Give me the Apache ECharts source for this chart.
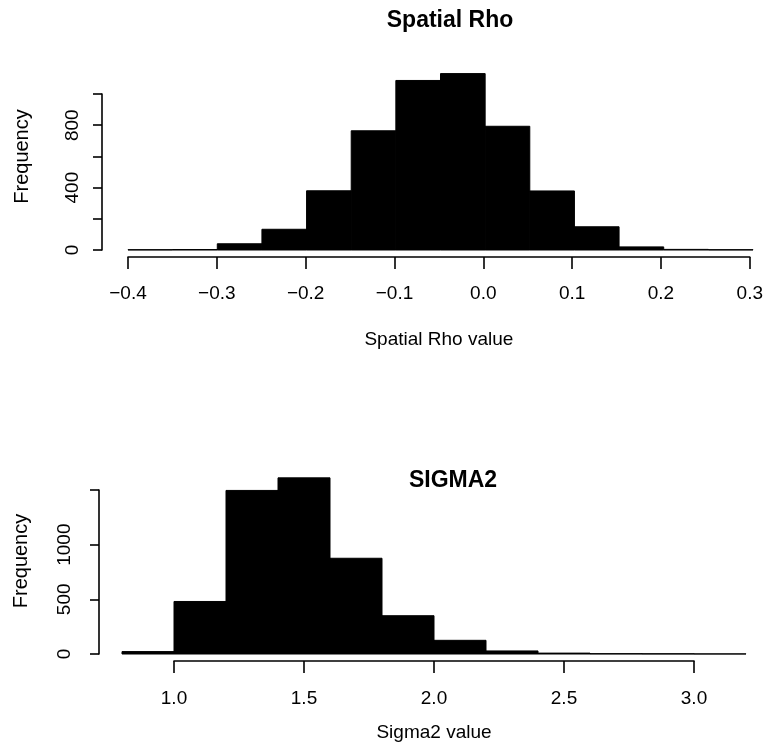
<!DOCTYPE html>
<html>
<head>
<meta charset="utf-8">
<script src="https://cdn.jsdelivr.net/npm/echarts@6/dist/echarts.min.js"></script>
<style>html,body{margin:0;padding:0;background:#fff}#c{width:766px;height:756px}</style>
</head>
<body>
<div id="c"></div>
<script>
// ---- Data ----
const rhoBinStart = [-0.4, -0.35, -0.3, -0.25, -0.2, -0.15, -0.1, -0.05, 0.0, 0.05, 0.1, 0.15, 0.2, 0.25];
const rhoBinEnd   = [-0.35, -0.3, -0.25, -0.2, -0.15, -0.1, -0.05, 0.0, 0.05, 0.1, 0.15, 0.2, 0.25, 0.3];
const rhoCounts   = [2, 3, 40, 133, 380, 765, 1088, 1132, 794, 379, 149, 20, 4, 2];

const sigBinStart = [0.8, 1.0, 1.2, 1.4, 1.6, 1.8, 2.0, 2.2, 2.4, 2.6, 2.8, 3.0];
const sigBinEnd   = [1.0, 1.2, 1.4, 1.6, 1.8, 2.0, 2.2, 2.4, 2.6, 2.8, 3.0, 3.2];
const sigCounts   = [22, 480, 1495, 1610, 875, 350, 125, 28, 8, 3, 2, 1];

const rhoYLabels = [0, 400, 800];
const sigYLabels = [0, 500, 1000];

const titles = ['Spatial Rho', 'SIGMA2'];
const xNames = ['Spatial Rho value', 'Sigma2 value'];
const yName = 'Frequency';

// ---- Build ----
const FONT = 'Liberation Sans, Arial, Helvetica, sans-serif';
const FS = 19;
function toData(s, e, c) { return s.map((v, i) => [v, e[i], c[i]]); }
function renderItem(params, api) {
  const p0 = api.coord([api.value(0), api.value(2)]);
  const p1 = api.coord([api.value(1), 0]);
  return {
    type: 'rect',
    shape: { x: p0[0], y: p0[1], width: p1[0] - p0[0], height: p1[1] - p0[1] },
    style: { fill: '#000', stroke: '#000', lineWidth: 1 }
  };
}
function fmtX(v) {
  const s = Math.abs(v).toFixed(1);
  return (v < -1e-9 ? '\u2212' : '') + s;
}
function lineStyle() { return { show: true, onZero: false, lineStyle: { color: '#000', width: 1.6 } }; }
function tickStyle(len) { return { show: true, length: len, lineStyle: { color: '#000', width: 1.6 } }; }
function hidden() { return { show: false, onZero: false }; }
const textBase = { fontFamily: FONT, fontSize: FS, color: '#000' };

const option = {
  animation: false,
  backgroundColor: '#fff',
  title: [
    { text: titles[0], left: 445, top: 4, textAlign: 'center',
      textStyle: { fontFamily: FONT, fontWeight: 'bold', fontSize: 23, color: '#000' } },
    { text: titles[1], left: 448, top: 464, textAlign: 'center',
      textStyle: { fontFamily: FONT, fontWeight: 'bold', fontSize: 23, color: '#000' } }
  ],
  grid: [
    { left: 128, width: 625, top: 63, height: 187 },   // 0 top bars
    { left: 128, width: 625, top: 94, height: 156 },   // 1 top axes
    { left: 122, width: 624, top: 468, height: 186 },  // 2 bottom bars
    { left: 174, width: 520, top: 490, height: 164 }   // 3 bottom axes
  ],
  xAxis: [
    { gridIndex: 0, type: 'value', min: -0.4, max: 0.3, show: false, axisLine: hidden() },
    { gridIndex: 1, type: 'value', min: -0.4, max: 0.3, interval: 0.1, offset: 7,
      axisLine: lineStyle(), axisTick: tickStyle(12), splitLine: { show: false },
      axisLabel: Object.assign({ formatter: fmtX, margin: 27 }, textBase),
      name: xNames[0], nameLocation: 'middle', nameGap: 73,
      nameTextStyle: textBase },
    { gridIndex: 2, type: 'value', min: 0.8, max: 3.2, show: false, axisLine: hidden() },
    { gridIndex: 3, type: 'value', min: 1.0, max: 3.0, interval: 0.5, offset: 7,
      axisLine: lineStyle(), axisTick: tickStyle(12), splitLine: { show: false },
      axisLabel: Object.assign({ formatter: fmtX, margin: 28 }, textBase),
      name: xNames[1], nameLocation: 'middle', nameGap: 62,
      nameTextStyle: textBase }
  ],
  yAxis: [
    { gridIndex: 0, type: 'value', min: 0, max: 1200,
      axisLine: hidden(), axisTick: hidden(), axisLabel: hidden(), splitLine: hidden(),
      name: yName, nameLocation: 'middle', nameGap: 96,
      nameTextStyle: Object.assign({}, textBase, { fontSize: 20 }) },
    { gridIndex: 1, type: 'value', min: 0, max: 1000, interval: 200, offset: 26,
      axisLine: lineStyle(), axisTick: tickStyle(9), splitLine: { show: false },
      axisLabel: Object.assign({ rotate: 90, margin: 20,
        formatter: v => rhoYLabels.indexOf(Math.round(v)) >= 0 ? String(Math.round(v)) : '' }, textBase) },
    { gridIndex: 2, type: 'value', min: 0, max: 1700,
      axisLine: hidden(), axisTick: hidden(), axisLabel: hidden(), splitLine: hidden(),
      name: yName, nameLocation: 'middle', nameGap: 91,
      nameTextStyle: Object.assign({}, textBase, { fontSize: 20 }) },
    { gridIndex: 3, type: 'value', min: 0, max: 1500, interval: 500, offset: 75,
      axisLine: lineStyle(), axisTick: tickStyle(9), splitLine: { show: false },
      axisLabel: Object.assign({ rotate: 90, margin: 25,
        formatter: v => sigYLabels.indexOf(Math.round(v)) >= 0 ? String(Math.round(v)) : '' }, textBase) }
  ],
  series: [
    { type: 'custom', xAxisIndex: 0, yAxisIndex: 0, renderItem: renderItem, z: 3,
      encode: { x: [0, 1], y: 2 }, data: toData(rhoBinStart, rhoBinEnd, rhoCounts) },
    { type: 'custom', xAxisIndex: 2, yAxisIndex: 2, renderItem: renderItem, z: 3,
      encode: { x: [0, 1], y: 2 }, data: toData(sigBinStart, sigBinEnd, sigCounts) }
  ]
};
echarts.init(document.getElementById('c'), null, { renderer: 'canvas' }).setOption(option);
</script>
</body>
</html>
